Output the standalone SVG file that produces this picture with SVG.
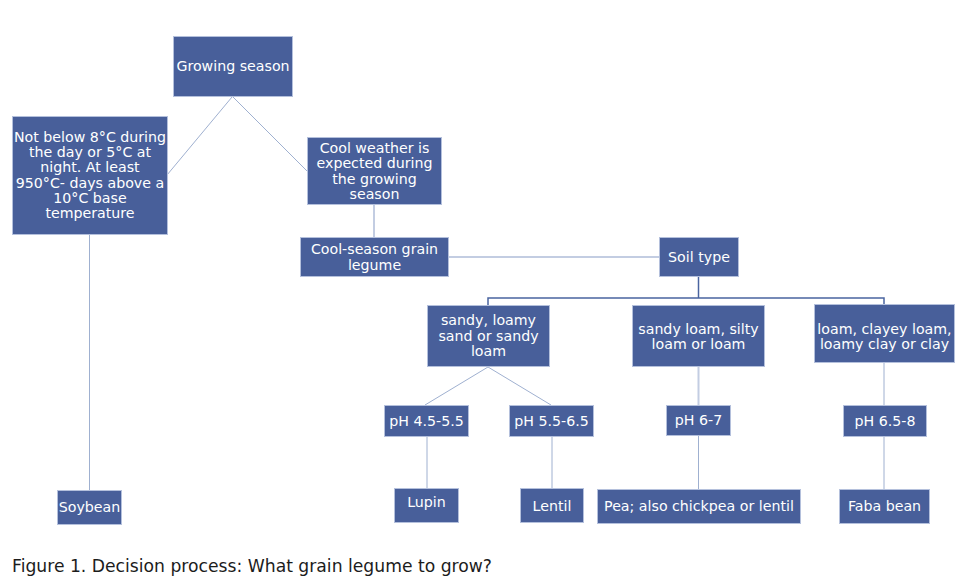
<svg xmlns="http://www.w3.org/2000/svg" width="978" height="586" viewBox="0 0 978 586">
<style>
.box{fill:#485f9a;stroke:#b4c0dc;stroke-width:1}
.t{font-family:"DejaVu Sans",Verdana,sans-serif;font-size:14.2px;fill:#ffffff;text-anchor:middle}
.c{fill:none;stroke:#9fb0d0;stroke-width:1}
.cw{fill:none;stroke:#c3cde2;stroke-width:2}
.cd{fill:none;stroke:#4a64a0;stroke-width:1.5}
.cap{font-family:"DejaVu Sans",Verdana,sans-serif;font-size:17.2px;fill:#1c1c1c}
</style>
<rect width="978" height="586" fill="#ffffff"/>
<g id="connectors">
<line class="c" x1="232" y1="97" x2="167" y2="175"/>
<line class="c" x1="233" y1="97" x2="307" y2="171"/>
<line class="c" x1="89.5" y1="235" x2="89.5" y2="490"/>
<line class="cw" x1="374" y1="205" x2="374" y2="237"/>
<line class="cw" x1="448" y1="257" x2="659" y2="257"/>
<line class="cd" x1="698.5" y1="277" x2="698.5" y2="298"/>
<polyline class="cd" points="488,305 488,298 884,298 884,305"/>
<line class="c" x1="488" y1="367" x2="425" y2="405"/>
<line class="c" x1="488" y1="367" x2="551" y2="405"/>
<line class="cw" x1="698.5" y1="367" x2="698.5" y2="405"/>
<line class="c" x1="884" y1="363" x2="884" y2="405"/>
<line class="c" x1="427" y1="436" x2="427" y2="488"/>
<line class="c" x1="552" y1="436" x2="552" y2="488"/>
<line class="c" x1="698.5" y1="435" x2="698.5" y2="489"/>
<line class="c" x1="884" y1="436" x2="884" y2="489"/>
</g>
<g id="growing-season">
<rect class="box" x="173.5" y="36.5" width="119" height="60"/>
<text class="t" x="233" y="71">Growing season</text>
</g>
<g id="warm-condition">
<rect class="box" x="12.5" y="116.5" width="155" height="118"/>
<text class="t" x="90" y="142">Not below 8°C during<tspan x="90" dy="15.2">the day or 5°C at</tspan><tspan x="90" dy="15.2">night. At least</tspan><tspan x="90" dy="15.2">950°C- days above a</tspan><tspan x="90" dy="15.2">10°C base</tspan><tspan x="90" dy="15.2">temperature</tspan></text>
</g>
<g id="cool-weather">
<rect class="box" x="307.5" y="137.5" width="134" height="67"/>
<text class="t" x="374.5" y="153">Cool weather is<tspan x="374.5" dy="15.3">expected during</tspan><tspan x="374.5" dy="15.3">the growing</tspan><tspan x="374.5" dy="15.3">season</tspan></text>
</g>
<g id="cool-season-legume">
<rect class="box" x="300.5" y="237.5" width="148" height="39"/>
<text class="t" x="374.5" y="254">Cool-season grain<tspan x="374.5" dy="16">legume</tspan></text>
</g>
<g id="soil-type">
<rect class="box" x="659.5" y="237.5" width="79" height="39"/>
<text class="t" x="699" y="262">Soil type</text>
</g>
<g id="sandy">
<rect class="box" x="427.5" y="305.5" width="122" height="61"/>
<text class="t" x="488.5" y="325">sandy, loamy<tspan x="488.5" dy="15.5">sand or sandy</tspan><tspan x="488.5" dy="15.5">loam</tspan></text>
</g>
<g id="sandy-loam">
<rect class="box" x="632.5" y="305.5" width="132" height="61"/>
<text class="t" x="698.5" y="334">sandy loam, silty<tspan x="698.5" dy="15">loam or loam</tspan></text>
</g>
<g id="clay">
<rect class="box" x="814.5" y="304.5" width="140" height="58"/>
<text class="t" x="884.5" y="334">loam, clayey loam,<tspan x="884.5" dy="15">loamy clay or clay</tspan></text>
</g>
<g id="ph-45-55">
<rect class="box" x="384.5" y="405.5" width="84" height="31"/>
<text class="t" x="426.5" y="426">pH 4.5-5.5</text>
</g>
<g id="ph-55-65">
<rect class="box" x="509.5" y="405.5" width="84" height="31"/>
<text class="t" x="551.5" y="426">pH 5.5-6.5</text>
</g>
<g id="ph-6-7">
<rect class="box" x="666.5" y="405.5" width="64" height="30"/>
<text class="t" x="698.5" y="425">pH 6-7</text>
</g>
<g id="ph-65-8">
<rect class="box" x="843.5" y="405.5" width="83" height="31"/>
<text class="t" x="885" y="426">pH 6.5-8</text>
</g>
<g id="soybean">
<rect class="box" x="57.5" y="490.5" width="64" height="34"/>
<text class="t" x="89.5" y="512">Soybean</text>
</g>
<g id="lupin">
<rect class="box" x="394.5" y="488.5" width="64" height="34"/>
<text class="t" x="426.5" y="507">Lupin</text>
</g>
<g id="lentil">
<rect class="box" x="520.5" y="488.5" width="63" height="34"/>
<text class="t" x="552" y="511">Lentil</text>
</g>
<g id="pea">
<rect class="box" x="597.5" y="489.5" width="203" height="34"/>
<text class="t" x="699" y="511">Pea; also chickpea or lentil</text>
</g>
<g id="faba-bean">
<rect class="box" x="839.5" y="489.5" width="90" height="34"/>
<text class="t" x="884.5" y="511">Faba bean</text>
</g>
<text class="cap" x="12" y="572">Figure 1. Decision process: What grain legume to grow?</text>
</svg>
